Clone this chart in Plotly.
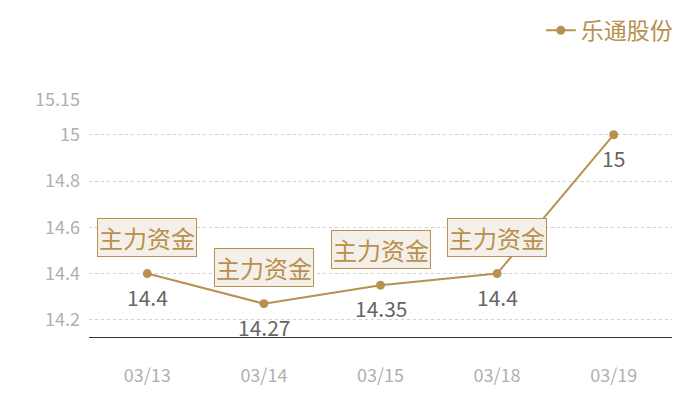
import plotly.graph_objects as go

# dados
dates = ["03/13", "03/14", "03/15", "03/18", "03/19"]
prices = [14.4, 14.27, 14.35, 14.4, 15]
price_labels = ["14.4", "14.27", "14.35", "14.4", "15"]
flag_dates = ["03/13", "03/14", "03/15", "03/18"]
flag_prices = [14.4, 14.27, 14.35, 14.4]
flag_text = "主力资金"
series_name = "乐通股份"
y_ticks = [14.2, 14.4, 14.6, 14.8, 15, 15.15]
y_tick_text = ["14.2", "14.4", "14.6", "14.8", "15", "15.15"]

GOLD = "#b8914e"
FONT = "Noto Sans CJK SC"

fig = go.Figure()

fig.add_trace(go.Scatter(
    x=dates,
    y=prices,
    mode="lines+markers",
    name=series_name,
    line=dict(color=GOLD, width=2),
    marker=dict(color=GOLD, size=9),
    cliponaxis=False,
))

# rótulos de valor abaixo dos pontos
for d, p, t in zip(dates, prices, price_labels):
    fig.add_annotation(
        x=d, y=p,
        text=t,
        showarrow=False,
        yshift=-23,
        font=dict(family=FONT, size=21, color="#666666"),
    )

# caixas "主力资金"
for d, p in zip(flag_dates, flag_prices):
    fig.add_annotation(
        x=d, y=p,
        text=flag_text,
        showarrow=False,
        yshift=36,
        font=dict(family=FONT, size=24, color=GOLD),
        bgcolor="#f4efe8",
        bordercolor=GOLD,
        borderwidth=1,
        borderpad=1,
    )

# a página tem margem de 8px no body, então a figura fica um pouco menor
fig.update_layout(
    width=692, height=392,
    margin=dict(l=81, r=28, t=92, b=63, autoexpand=False),
    plot_bgcolor="white",
    paper_bgcolor="white",
    font=dict(family=FONT),
    showlegend=True,
    legend=dict(
        x=1.01, y=1.385, xanchor="right", yanchor="top",
        font=dict(family=FONT, size=23, color=GOLD),
        itemwidth=30,
        bgcolor="rgba(0,0,0,0)",
    ),
    xaxis=dict(
        type="category",
        range=[-0.5, 4.5],
        showgrid=False,
        showline=True,
        linecolor="#333333",
        linewidth=1,
        ticks="",
        ticklabelstandoff=22,
        tickfont=dict(family=FONT, size=18, color="#b0b0b0"),
        fixedrange=True,
    ),
    yaxis=dict(
        range=[14.126, 15.15],
        tickvals=y_ticks,
        ticktext=y_tick_text,
        showgrid=True,
        gridcolor="#d0d0d0",
        griddash="dot",
        zeroline=False,
        showline=False,
        ticks="",
        ticklabelstandoff=8,
        tickfont=dict(family=FONT, size=18, color="#b0b0b0"),
    ),
)

fig.write_html("out.html")
